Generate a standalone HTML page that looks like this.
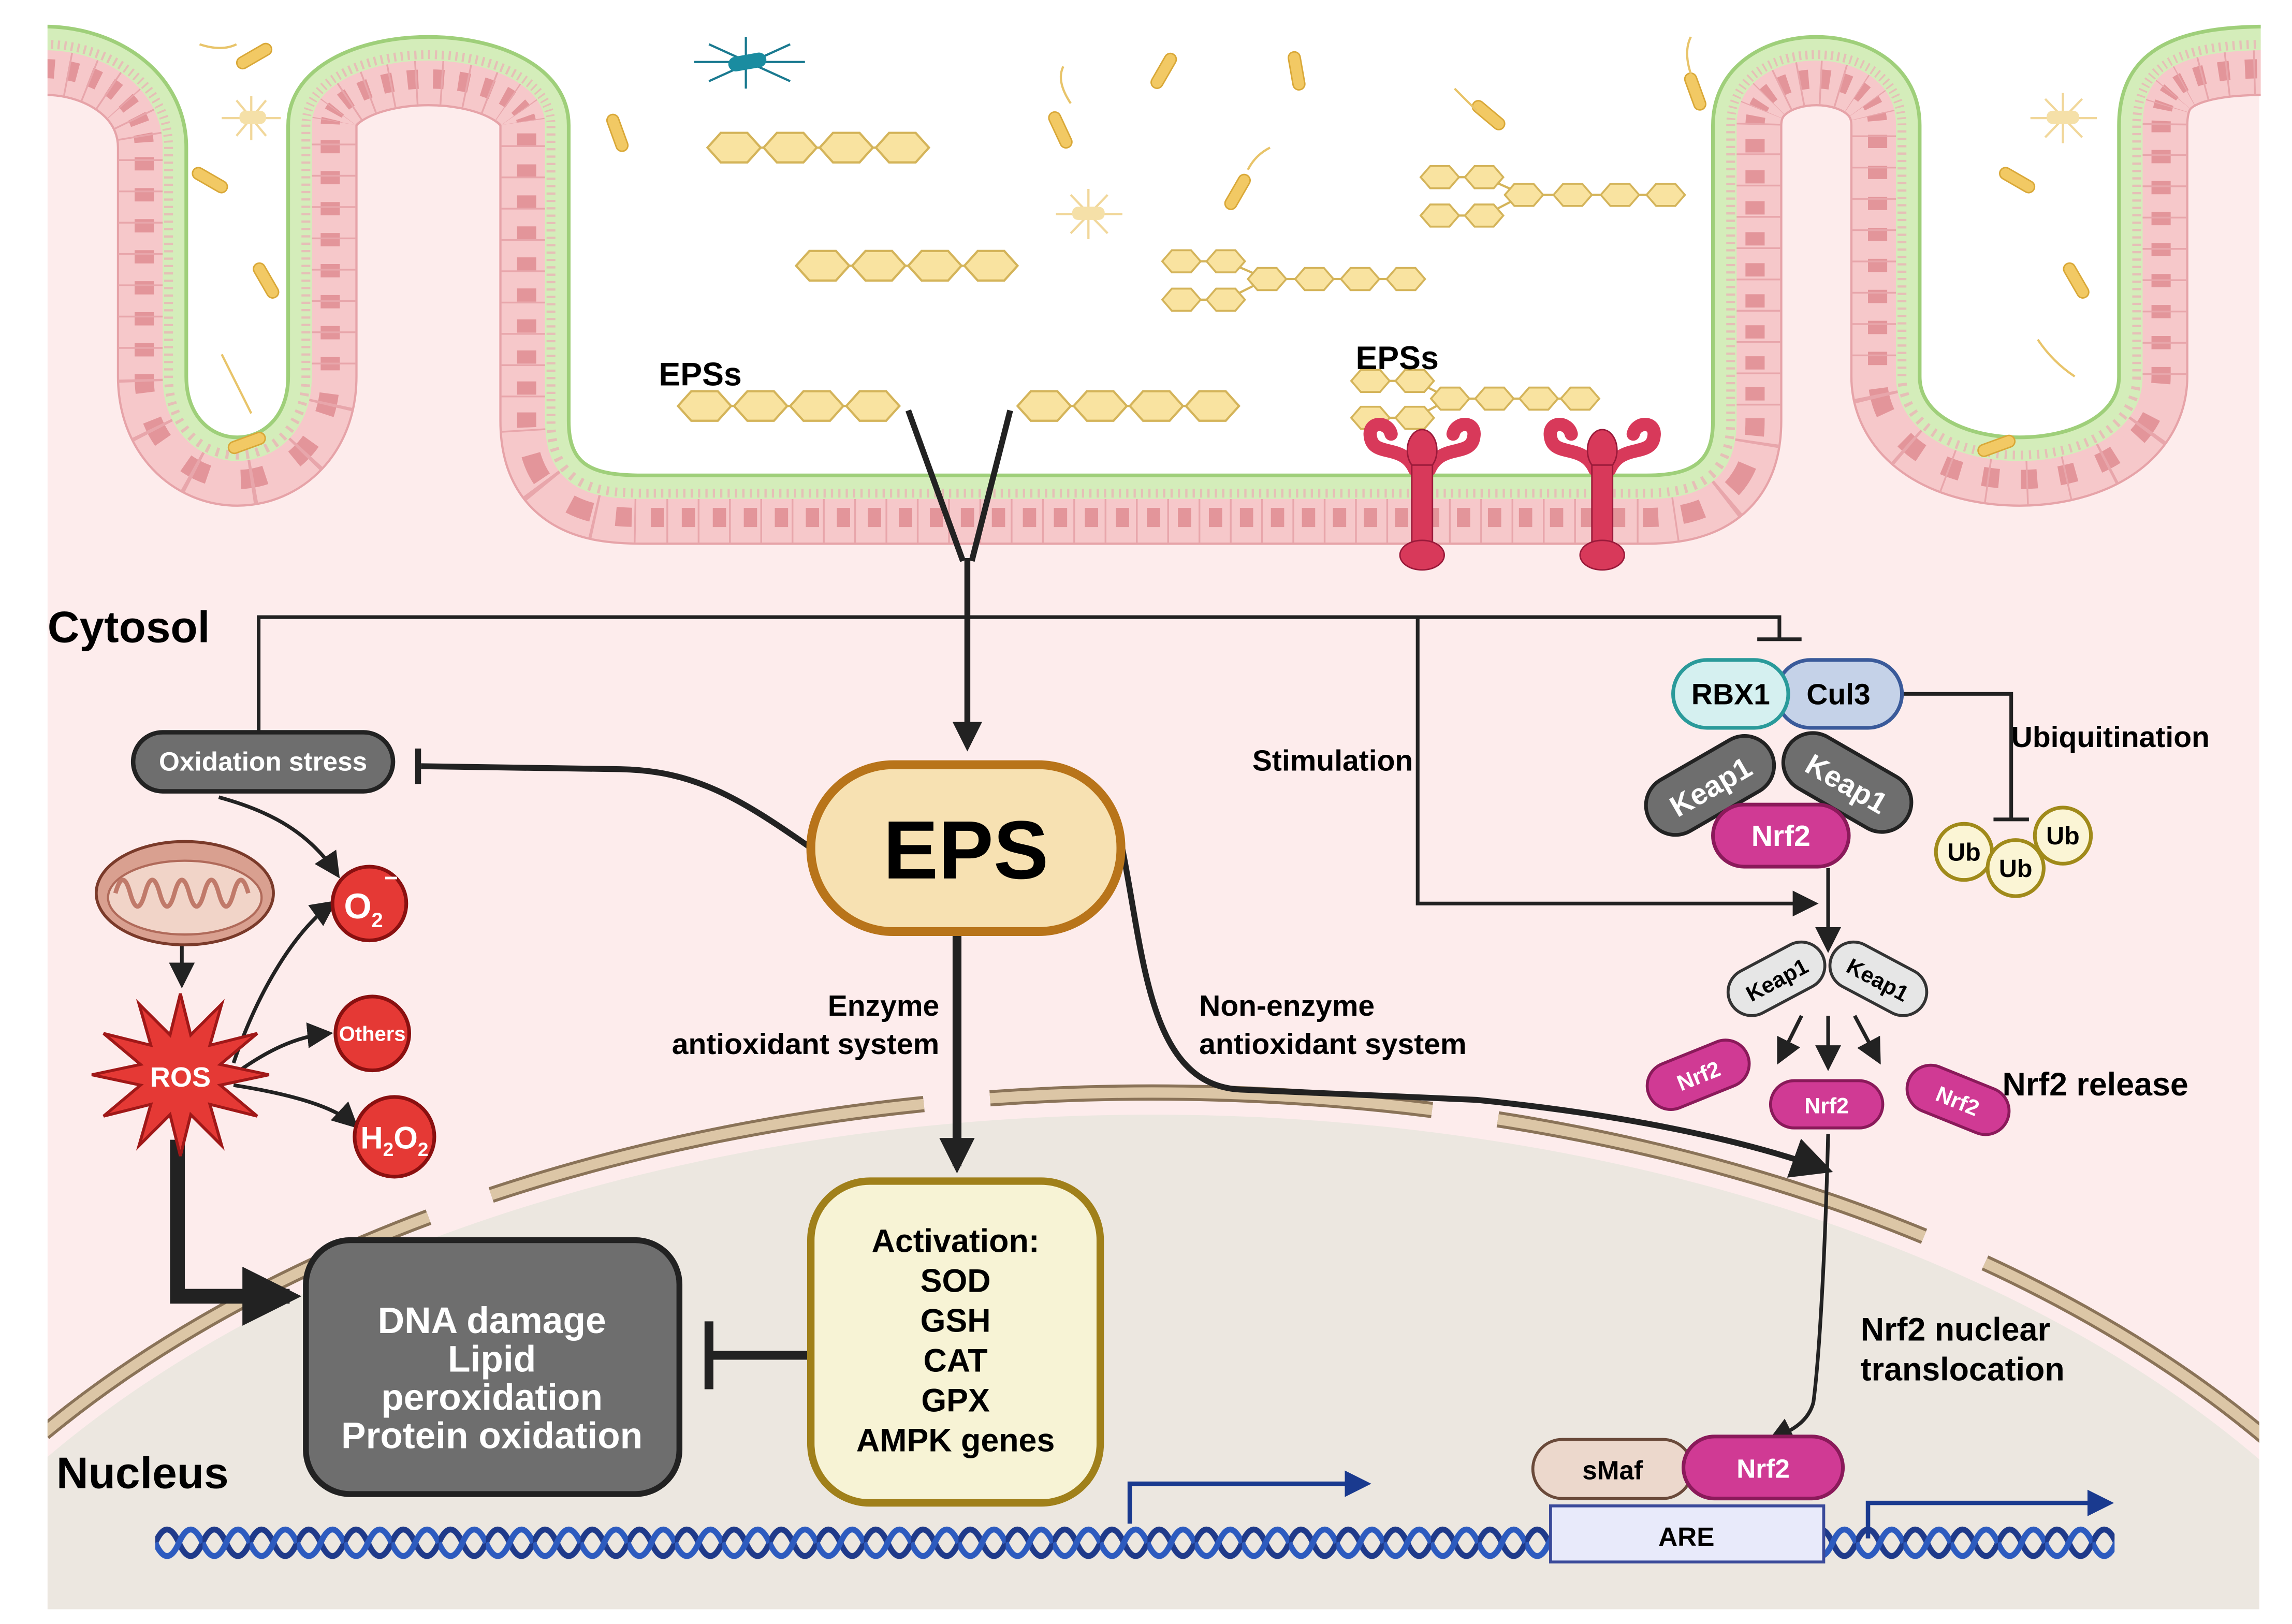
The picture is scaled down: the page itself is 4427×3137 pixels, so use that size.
<!DOCTYPE html>
<html><head><meta charset="utf-8"><style>
html,body{margin:0;padding:0;background:#fff;overflow:hidden;width:4427px;height:3137px}
svg{display:block}
text{font-family:"Liberation Sans",Arial,sans-serif;font-weight:bold}
</style></head><body>
<svg width="4427" height="3137" viewBox="0 0 1552 1100" xmlns="http://www.w3.org/2000/svg">
<defs>
<path id="P" d="M30 18 C80 18 126 50 126 100 L126 255 C126 310 195 310 195 255 L195 85 C195 5 385 5 385 85 L385 285 C385 315 400 322 435 322 L1115 322 C1150 322 1160 310 1160 285 L1160 85 C1160 5 1300 5 1300 85 L1300 255 C1300 310 1435 310 1435 255 L1435 85 C1435 30 1480 18 1535 18"/>
<polygon id="hx" points="-18,0 -9,-10 9,-10 18,0 9,10 -9,10" fill="#f9e3a0" stroke="#d4b45a" stroke-width="1.5"/>
<polygon id="hs" points="-13,0 -6.5,-7.5 6.5,-7.5 13,0 6.5,7.5 -6.5,7.5" fill="#f9e3a0" stroke="#d4b45a" stroke-width="1.3"/>
<rect id="bac" x="-4" y="-13" width="8" height="26" rx="4" fill="#f2c964" stroke="#d9a838" stroke-width="1"/>
<pattern id="dna" patternUnits="userSpaceOnUse" x="105" y="1025" width="32" height="40">
<path d="M0 20 Q8 2 16 20 T32 20" fill="none" stroke="#1f3a8a" stroke-width="4"/>
<path d="M0 20 Q8 38 16 20 T32 20" fill="none" stroke="#2d5bbf" stroke-width="4"/>
</pattern>
<marker id="ah" viewBox="0 0 10 10" refX="8" refY="5" markerWidth="5" markerHeight="5" orient="auto"><path d="M0 0L10 5L0 10z" fill="#222"/></marker>
<marker id="ahb" viewBox="0 0 10 10" refX="8" refY="5" markerWidth="4" markerHeight="4" orient="auto"><path d="M0 0L10 5L0 10z" fill="#222"/></marker>
<marker id="ahs" viewBox="0 0 10 10" refX="8" refY="5" markerWidth="7" markerHeight="7" orient="auto"><path d="M0 0L10 5L0 10z" fill="#222"/></marker>
<marker id="ahu" viewBox="0 0 10 10" refX="8" refY="5" markerWidth="6" markerHeight="6" orient="auto"><path d="M0 0L10 5L0 10z" fill="#1a3a8f"/></marker>
</defs>

<rect x="32" y="0" width="1498" height="1090" fill="#fdecec"/>
<clipPath id="cp"><rect x="32" y="0" width="1498" height="1090"/></clipPath>
<g clip-path="url(#cp)">
<ellipse cx="780" cy="1300" rx="914" ry="545" fill="#ece7e0"/>
<ellipse cx="780" cy="1300" rx="928" ry="560" fill="none" stroke="#8a7358" stroke-width="11" stroke-dasharray="300 45"/>
<ellipse cx="780" cy="1300" rx="928" ry="560" fill="none" stroke="#dcc6a6" stroke-width="7" stroke-dasharray="300 45"/>
</g>

<!-- epithelium -->
<g fill="none">
<use href="#P" stroke="#e6a3a8" stroke-width="94"/>
<use href="#P" stroke="#f6c8ca" stroke-width="91"/>
<use href="#P" stroke="#e3959a" stroke-width="70" stroke-dasharray="9 12"/>
<use href="#P" stroke="#f6c8ca" stroke-width="44"/>
<use href="#P" stroke="#e8a6ab" stroke-width="92" stroke-dasharray="1.2 20"/>
<use href="#P" stroke="#d4edba" stroke-width="32"/>
<use href="#P" stroke="#eab3b6" stroke-width="30" stroke-dasharray="1.5 3.5" opacity="0.8"/>
<use href="#P" stroke="#d4edba" stroke-width="18"/>
</g>
<path d="M30 18 C80 18 126 50 126 100 L126 255 C126 310 195 310 195 255 L195 85 C195 5 385 5 385 85 L385 285 C385 315 400 322 435 322 L1115 322 C1150 322 1160 310 1160 285 L1160 85 C1160 5 1300 5 1300 85 L1300 255 C1300 310 1435 310 1435 255 L1435 85 C1435 30 1480 18 1535 18 L1535 0 L30 0 Z" fill="#fff"/>
<use href="#P" fill="none" stroke="#9fcf7a" stroke-width="2.5"/>
<rect x="1531" y="0" width="21" height="1100" fill="#fff"/>
<rect x="0" y="0" width="32" height="1100" fill="#fff"/>
<rect x="0" y="1091" width="1552" height="9" fill="#fff"/>

<!-- bacteria -->
<g>
<use href="#bac" transform="translate(172,38) rotate(60)"/>
<use href="#bac" transform="translate(142,122) rotate(-60)"/>
<use href="#bac" transform="translate(180,190) rotate(-30)"/>
<use href="#bac" transform="translate(167,300) rotate(70)"/>
<use href="#bac" transform="translate(418,90) rotate(-20)"/>
<use href="#bac" transform="translate(718,88) rotate(-25)"/>
<use href="#bac" transform="translate(788,48) rotate(30)"/>
<use href="#bac" transform="translate(838,130) rotate(30)"/>
<use href="#bac" transform="translate(878,48) rotate(-10)"/>
<use href="#bac" transform="translate(1148,62) rotate(-20)"/>
<use href="#bac" transform="translate(1008,78) rotate(-50)"/>
<use href="#bac" transform="translate(1366,122) rotate(-60)"/>
<use href="#bac" transform="translate(1406,190) rotate(-30)"/>
<use href="#bac" transform="translate(1352,302) rotate(70)"/>
<g stroke="#e8c46a" stroke-width="1.5" fill="none">
<path d="M160 30 q-10 5 -25 0"/><path d="M150 240 q10 20 20 40"/><path d="M725 70 q-10 -15 -5 -25"/><path d="M845 115 q5 -10 15 -15"/><path d="M1380 230 q10 15 25 25"/><path d="M1145 50 q-5 -15 0 -25"/><path d="M985 60 q10 10 15 15"/>
</g>
<g stroke="#f1d79a" stroke-width="1.5">
<path d="M150 80 L190 80 M160 68 L180 92 M180 68 L160 92 M170 65 L170 95"/>
<path d="M715 145 L760 145 M725 132 L750 158 M750 132 L725 158 M737 128 L737 162"/>
<path d="M1375 80 L1420 80 M1385 67 L1410 93 M1410 67 L1385 93 M1397 63 L1397 97"/>
</g>
<rect x="162" y="75" width="18" height="9" rx="4" fill="#f5e0a8"/>
<rect x="726" y="140" width="22" height="9" rx="4" fill="#f5e0a8"/>
<rect x="1386" y="75" width="22" height="9" rx="4" fill="#f5e0a8"/>
<g stroke="#1a7a90" stroke-width="1.5"><path d="M470 42 L545 42 M480 30 L535 55 M480 55 L535 30 M505 25 L505 60"/></g>
<rect x="493" y="37" width="26" height="10" rx="5" fill="#1a8ca0" transform="rotate(-10 506 42)"/>
</g>

<!-- EPS chains -->
<g stroke="#d4b45a" stroke-width="1.5" fill="none">
<line x1="497" y1="100" x2="611" y2="100"/><line x1="557" y1="180" x2="671" y2="180"/>
<line x1="477" y1="275" x2="591" y2="275"/><line x1="707" y1="275" x2="821" y2="275"/>
<path d="M830 177 L858 189 L952 189 M830 203 L858 189 M800 177 L830 177 M800 203 L830 203"/>
<path d="M1005 120 L1032 132 L1128 132 M1005 146 L1032 132 M975 120 L1005 120 M975 146 L1005 146"/>
<path d="M958 258 L982 270 L1070 270 M958 283 L982 270 M928 258 L958 258 M928 283 L958 283"/>
</g>
<use href="#hx" x="497" y="100"/><use href="#hx" x="535" y="100"/><use href="#hx" x="573" y="100"/><use href="#hx" x="611" y="100"/>
<use href="#hx" x="557" y="180"/><use href="#hx" x="595" y="180"/><use href="#hx" x="633" y="180"/><use href="#hx" x="671" y="180"/>
<use href="#hx" x="477" y="275"/><use href="#hx" x="515" y="275"/><use href="#hx" x="553" y="275"/><use href="#hx" x="591" y="275"/>
<use href="#hx" x="707" y="275"/><use href="#hx" x="745" y="275"/><use href="#hx" x="783" y="275"/><use href="#hx" x="821" y="275"/>
<use href="#hs" x="800" y="177"/><use href="#hs" x="830" y="177"/><use href="#hs" x="800" y="203"/><use href="#hs" x="830" y="203"/>
<use href="#hs" x="858" y="189"/><use href="#hs" x="890" y="189"/><use href="#hs" x="921" y="189"/><use href="#hs" x="952" y="189"/>
<use href="#hs" x="975" y="120"/><use href="#hs" x="1005" y="120"/><use href="#hs" x="975" y="146"/><use href="#hs" x="1005" y="146"/>
<use href="#hs" x="1032" y="132"/><use href="#hs" x="1065" y="132"/><use href="#hs" x="1097" y="132"/><use href="#hs" x="1128" y="132"/>
<use href="#hs" x="928" y="258"/><use href="#hs" x="958" y="258"/><use href="#hs" x="928" y="283"/><use href="#hs" x="958" y="283"/>
<use href="#hs" x="982" y="270"/><use href="#hs" x="1012" y="270"/><use href="#hs" x="1042" y="270"/><use href="#hs" x="1070" y="270"/>

<text x="446" y="261" font-size="22">EPSs</text>
<text x="918" y="250" font-size="22">EPSs</text>

<!-- receptors -->
<g fill="none" stroke="#d8395a" stroke-width="9" stroke-linecap="round">
<path d="M958 318 C950 300 930 310 928 296 C926 285 940 285 942 294"/>
<path d="M968 318 C976 300 996 310 998 296 C1000 285 986 285 984 294"/>
<path d="M1080 318 C1072 300 1052 310 1050 296 C1048 285 1062 285 1064 294"/>
<path d="M1090 318 C1098 300 1118 310 1120 296 C1122 285 1108 285 1106 294"/>
</g>
<g fill="#d8395a" stroke="#9a1a3a" stroke-width="1">
<ellipse cx="963" cy="305" rx="10" ry="14"/><rect x="956" y="315" width="14" height="60"/><ellipse cx="963" cy="376" rx="15" ry="10"/>
<ellipse cx="1085" cy="305" rx="10" ry="14"/><rect x="1078" y="315" width="14" height="60"/><ellipse cx="1085" cy="376" rx="15" ry="10"/>
</g>

<g stroke="#222" stroke-width="4" fill="none">
<path d="M615 278 L652 380 M684 278 L658 380"/>
<path d="M655 378 L655 505" marker-end="url(#ah)"/>
</g>

<text x="32" y="435" font-size="30">Cytosol</text>
<text x="38" y="1008" font-size="30">Nucleus</text>

<g stroke="#222" stroke-width="2.5" fill="none">
<path d="M175 496 L175 418 L1205 418 L1205 432"/>
<path d="M1190 433 L1220 433"/>
<path d="M960 418 L960 612 L1228 612" marker-end="url(#ahs)"/>
<path d="M1288 470 L1362 470 L1362 555"/>
<path d="M1350 555 L1374 555"/>
<path d="M1238 588 L1238 642" marker-end="url(#ahs)"/>
<path d="M1220 688 L1205 718" marker-end="url(#ahs)"/>
<path d="M1238 688 L1238 722" marker-end="url(#ahs)"/>
<path d="M1256 688 L1272 718" marker-end="url(#ahs)"/>
<path d="M1238 768 C1236 850 1232 920 1228 950 C1224 965 1210 970 1200 975" marker-end="url(#ahs)"/>
<path d="M148 540 C185 550 210 565 228 592" marker-end="url(#ahs)"/>
<path d="M123 640 L123 666" marker-end="url(#ahs)"/>
<path d="M158 720 C175 670 200 630 225 612" marker-end="url(#ahs)"/>
<path d="M158 728 C180 712 200 702 222 700" marker-end="url(#ahs)"/>
<path d="M158 735 C190 740 225 748 240 762" marker-end="url(#ahs)"/>
</g>

<text x="848" y="522" font-size="20">Stimulation</text>
<text x="1362" y="506" font-size="20">Ubiquitination</text>

<rect x="90" y="496" width="176" height="40" rx="20" fill="#6e6e6e" stroke="#222" stroke-width="3"/>
<text x="178" y="522" font-size="18" fill="#fff" text-anchor="middle">Oxidation stress</text>
<path d="M550 575 C500 540 470 522 420 521 L285 519" stroke="#222" stroke-width="4" fill="none"/>
<path d="M283 507 L283 531" stroke="#222" stroke-width="4"/>

<path d="M648 632 L648 790" stroke="#222" stroke-width="6" fill="none" marker-end="url(#ahb)"/>
<path d="M760 575 C775 650 778 735 840 738 L1000 745 C1100 755 1180 772 1236 792" stroke="#222" stroke-width="4" fill="none" marker-end="url(#ahs)"/>
<rect x="549" y="518" width="210" height="113" rx="56" fill="#f7e1b2" stroke="#b8741a" stroke-width="6"/>
<text x="654" y="595" font-size="56" text-anchor="middle">EPS</text>
<text x="636" y="688" font-size="20" text-anchor="end">Enzyme</text>
<text x="636" y="714" font-size="20" text-anchor="end">antioxidant system</text>
<text x="812" y="688" font-size="20">Non-enzyme</text>
<text x="812" y="714" font-size="20">antioxidant system</text>

<path d="M548 918 L480 918" stroke="#222" stroke-width="6"/>
<path d="M480 895 L480 941" stroke="#222" stroke-width="6"/>
<rect x="549" y="800" width="196" height="218" rx="40" fill="#f7f3d5" stroke="#a0801a" stroke-width="5"/>
<g font-size="22" text-anchor="middle">
<text x="647" y="848">Activation:</text><text x="647" y="875">SOD</text><text x="647" y="902">GSH</text><text x="647" y="929">CAT</text><text x="647" y="956">GPX</text><text x="647" y="983">AMPK genes</text>
</g>

<path d="M120 772 L120 878 L196 878" stroke="#222" stroke-width="10" fill="none" marker-end="url(#ahb)"/>
<rect x="207" y="840" width="253" height="172" rx="30" fill="#6e6e6e" stroke="#222" stroke-width="4"/>
<g font-size="25" fill="#fff" text-anchor="middle">
<text x="333" y="903">DNA damage</text><text x="333" y="929">Lipid</text><text x="333" y="955">peroxidation</text><text x="333" y="981">Protein oxidation</text>
</g>

<ellipse cx="125" cy="605" rx="60" ry="35" fill="#d9a090" stroke="#7a3a2a" stroke-width="2"/>
<ellipse cx="125" cy="608" rx="52" ry="25" fill="#f1d4c8" stroke="#b06a5a" stroke-width="1.5"/>
<path d="M78 605 q5 -18 10 0 q5 18 10 0 q5 -18 10 0 q5 18 10 0 q5 -18 10 0 q5 18 10 0 q5 -18 10 0 q5 18 10 0 q5 -18 10 0" fill="none" stroke="#c07a6a" stroke-width="3"/>

<polygon points="182,728 149,735 174,756 142,748 150,776 129,755 122,783 115,755 94,776 102,748 70,756 95,735 62,728 95,721 70,700 102,708 94,680 115,701 122,673 129,701 150,680 142,708 174,700 149,721" fill="#e53935" stroke="#a01818" stroke-width="2"/>
<text x="122" y="736" font-size="19" fill="#fff" text-anchor="middle">ROS</text>
<circle cx="250" cy="612" r="25" fill="#e53935" stroke="#8a1010" stroke-width="2.5"/>
<text x="246" y="622" font-size="24" fill="#fff" text-anchor="middle">O<tspan font-size="14" dy="6">2</tspan></text>
<text x="260" y="600" font-size="16" fill="#fff">−</text>
<circle cx="252" cy="700" r="25" fill="#e53935" stroke="#8a1010" stroke-width="2.5"/>
<text x="252" y="705" font-size="14" fill="#fff" text-anchor="middle">Others</text>
<circle cx="267" cy="770" r="27" fill="#e53935" stroke="#8a1010" stroke-width="2.5"/>
<text x="267" y="778" font-size="21" fill="#fff" text-anchor="middle">H<tspan font-size="13" dy="5">2</tspan><tspan dy="-5">O</tspan><tspan font-size="13" dy="5">2</tspan></text>

<g transform="rotate(-30 1158 532)"><rect x="1111" y="512" width="94" height="40" rx="20" fill="#6e6e6e" stroke="#222" stroke-width="2.5"/><text x="1158" y="540" font-size="20" fill="#fff" text-anchor="middle" font-weight="normal">Keap1</text></g>
<g transform="rotate(30 1251 530)"><rect x="1204" y="510" width="94" height="40" rx="20" fill="#6e6e6e" stroke="#222" stroke-width="2.5"/><text x="1251" y="538" font-size="20" fill="#fff" text-anchor="middle" font-weight="normal">Keap1</text></g>
<rect x="1160" y="545" width="92" height="42" rx="21" fill="#d03a94" stroke="#8a1a5a" stroke-width="2.5"/>
<text x="1206" y="573" font-size="20" fill="#fff" text-anchor="middle" font-weight="normal">Nrf2</text>
<rect x="1203" y="447" width="85" height="46" rx="23" fill="#c5d2e8" stroke="#3a5a9a" stroke-width="2.5"/>
<text x="1245" y="477" font-size="20" text-anchor="middle" font-weight="normal">Cul3</text>
<rect x="1133" y="447" width="78" height="46" rx="23" fill="#d5f0f0" stroke="#2a9a9a" stroke-width="2.5"/>
<text x="1172" y="477" font-size="20" text-anchor="middle" font-weight="normal">RBX1</text>

<g fill="#fbf5d5" stroke="#a08a1a" stroke-width="2.5"><circle cx="1330" cy="577" r="19"/><circle cx="1397" cy="566" r="19"/><circle cx="1365" cy="588" r="19"/></g>
<g font-size="17" text-anchor="middle"><text x="1330" y="583">Ub</text><text x="1397" y="572">Ub</text><text x="1365" y="594">Ub</text></g>

<g transform="rotate(-28 1203 663)"><rect x="1168" y="647" width="70" height="32" rx="16" fill="#e6e6e6" stroke="#333" stroke-width="2"/><text x="1203" y="669" font-size="15" text-anchor="middle" font-weight="normal">Keap1</text></g>
<g transform="rotate(28 1272 663)"><rect x="1237" y="647" width="70" height="32" rx="16" fill="#e6e6e6" stroke="#333" stroke-width="2"/><text x="1272" y="669" font-size="15" text-anchor="middle" font-weight="normal">Keap1</text></g>
<g transform="rotate(-22 1150 728)"><rect x="1114" y="712" width="72" height="32" rx="16" fill="#d03a94" stroke="#8a1a5a" stroke-width="2"/><text x="1150" y="734" font-size="15" fill="#fff" text-anchor="middle" font-weight="normal">Nrf2</text></g>
<rect x="1199" y="732" width="76" height="32" rx="16" fill="#d03a94" stroke="#8a1a5a" stroke-width="2"/><text x="1237" y="754" font-size="15" fill="#fff" text-anchor="middle" font-weight="normal">Nrf2</text>
<g transform="rotate(22 1326 745)"><rect x="1290" y="729" width="72" height="32" rx="16" fill="#d03a94" stroke="#8a1a5a" stroke-width="2"/><text x="1326" y="751" font-size="15" fill="#fff" text-anchor="middle" font-weight="normal">Nrf2</text></g>
<text x="1356" y="742" font-size="22">Nrf2 release</text>
<text x="1260" y="908" font-size="22">Nrf2 nuclear</text>
<text x="1260" y="935" font-size="22">translocation</text>

<rect x="105" y="1025" width="1327" height="40" fill="url(#dna)"/>
<path d="M765 1032 L765 1005 L925 1005" stroke="#1a3a8f" stroke-width="3" fill="none" marker-end="url(#ahu)"/>
<path d="M1265 1042 L1265 1018 L1428 1018" stroke="#1a3a8f" stroke-width="3" fill="none" marker-end="url(#ahu)"/>
<rect x="1050" y="1020" width="185" height="38" fill="#e8eafa" stroke="#3a4a9a" stroke-width="2"/>
<text x="1142" y="1047" font-size="18" text-anchor="middle" font-weight="normal">ARE</text>
<rect x="1038" y="975" width="108" height="40" rx="20" fill="#ecd8cc" stroke="#6a4a3a" stroke-width="2"/>
<text x="1092" y="1002" font-size="18" text-anchor="middle" font-weight="normal">sMaf</text>
<rect x="1140" y="973" width="108" height="42" rx="21" fill="#d03a94" stroke="#8a1a5a" stroke-width="2.5"/>
<text x="1194" y="1001" font-size="18" fill="#fff" text-anchor="middle" font-weight="normal">Nrf2</text>
</svg>
</body></html>
